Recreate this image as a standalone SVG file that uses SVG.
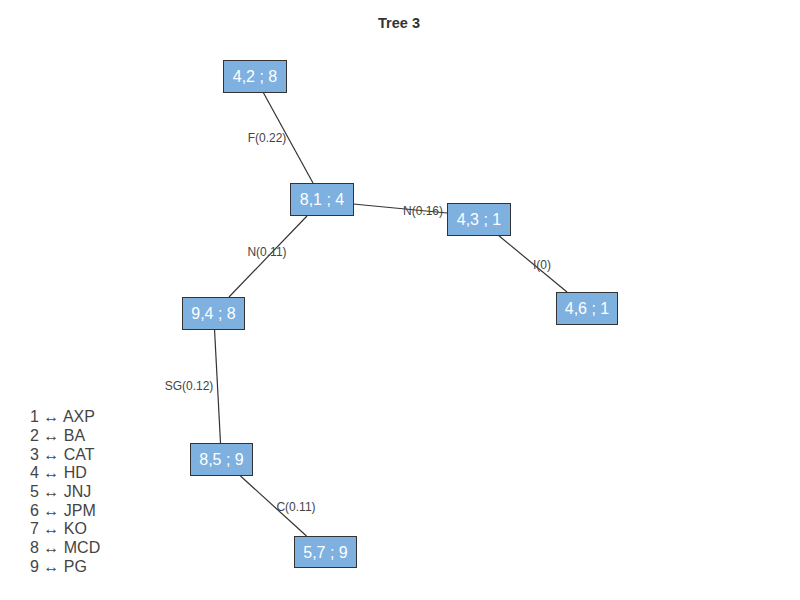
<svg xmlns="http://www.w3.org/2000/svg" width="800" height="600" viewBox="0 0 800 600">
  <style>
    .node rect { fill: #7eb0e0; stroke: #333333; stroke-width: 1; }
    .node text { fill: #ffffff; font-family: "Liberation Sans", Arial, sans-serif; font-size: 16px; text-anchor: middle; dominant-baseline: central; }
    .edge line { stroke: #333333; stroke-width: 1.2; }
    .elabel { fill: #444444; font-family: "Liberation Sans", Arial, sans-serif; font-size: 12px; text-anchor: middle; dominant-baseline: central; }
    .legend text { fill: #444444; font-family: "Liberation Sans", "DejaVu Sans", Arial, sans-serif; font-size: 16px; }
    .title { fill: #333333; font-family: "Liberation Sans", Arial, sans-serif; font-size: 14.5px; font-weight: bold; text-anchor: middle; }
  </style>
  <rect width="800" height="600" fill="#ffffff"/>
  <text class="title" x="399" y="28">Tree 3</text>

  <!-- connectors -->
  <g id="edges" class="edge">
    <line x1="263" y1="92" x2="313" y2="183"/>
    <line x1="353" y1="204" x2="447" y2="213"/>
    <line x1="307" y1="216" x2="229" y2="297"/>
    <line x1="498" y1="235" x2="567" y2="292"/>
    <line x1="214.5" y1="329" x2="220.5" y2="443"/>
    <line x1="240.5" y1="476" x2="306.5" y2="536"/>
  </g>
  <g id="edge-labels">
    <text class="elabel" x="267" y="138">F(0.22)</text>
    <text class="elabel" x="423" y="211">N(0.16)</text>
    <text class="elabel" x="267" y="252">N(0.11)</text>
    <text class="elabel" x="542" y="265">I(0)</text>
    <text class="elabel" x="189" y="386">SG(0.12)</text>
    <text class="elabel" x="296" y="507">C(0.11)</text>
  </g>

  <!-- nodes -->
  <g id="n428" class="node">
    <rect x="223.5" y="60.5" width="63" height="32"/>
    <text x="255" y="76.5">4,2 ; 8</text>
  </g>
  <g id="n814" class="node">
    <rect x="290.5" y="183.5" width="63" height="32"/>
    <text x="322" y="199.5">8,1 ; 4</text>
  </g>
  <g id="n431" class="node">
    <rect x="447.5" y="203.5" width="63" height="32"/>
    <text x="479" y="219.5">4,3 ; 1</text>
  </g>
  <g id="n461" class="node">
    <rect x="556.5" y="292.5" width="61" height="32"/>
    <text x="587" y="308.5">4,6 ; 1</text>
  </g>
  <g id="n948" class="node">
    <rect x="182.5" y="297.5" width="62" height="32"/>
    <text x="213.5" y="313.5">9,4 ; 8</text>
  </g>
  <g id="n859" class="node">
    <rect x="190.5" y="443.5" width="62" height="32"/>
    <text x="221.5" y="459.5">8,5 ; 9</text>
  </g>
  <g id="n579" class="node">
    <rect x="294.5" y="536.5" width="62" height="31"/>
    <text x="325.5" y="552">5,7 ; 9</text>
  </g>

  <!-- legend -->
  <g id="legend" class="legend">
    <text x="30" y="422">1 ↔ AXP</text>
    <text x="30" y="441">2 ↔ BA</text>
    <text x="30" y="459.5">3 ↔ CAT</text>
    <text x="30" y="478">4 ↔ HD</text>
    <text x="30" y="497">5 ↔ JNJ</text>
    <text x="30" y="515.5">6 ↔ JPM</text>
    <text x="30" y="534">7 ↔ KO</text>
    <text x="30" y="553">8 ↔ MCD</text>
    <text x="30" y="571.5">9 ↔ PG</text>
  </g>
</svg>
